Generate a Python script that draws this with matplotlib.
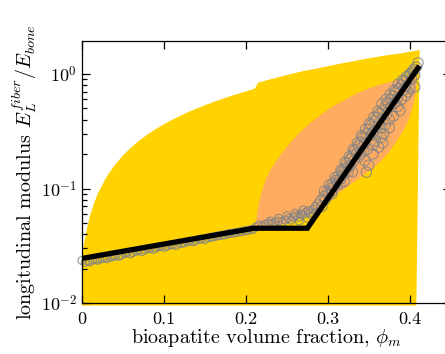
import numpy as np
import matplotlib
matplotlib.use("Agg")
import matplotlib.pyplot as plt

# --- data ---
# yellow band: upper bound (lower bound is the axis floor)
band_x = [0.0, 0.003, 0.006, 0.010, 0.015, 0.020, 0.030, 0.040, 0.050, 0.060, 0.070, 0.080,
          0.090, 0.100, 0.110, 0.120, 0.130, 0.140, 0.150, 0.160, 0.170, 0.180, 0.190, 0.200,
          0.211, 0.215, 0.230, 0.250, 0.270, 0.290, 0.310, 0.330, 0.350, 0.370, 0.390, 0.412]
band_hi = [0.024, 0.034, 0.044, 0.058, 0.075, 0.092, 0.126, 0.160, 0.194, 0.228, 0.262, 0.296,
           0.330, 0.364, 0.398, 0.432, 0.466, 0.500, 0.534, 0.568, 0.602, 0.636, 0.670, 0.704,
           0.745, 0.840, 0.900, 0.980, 1.06, 1.13, 1.21, 1.29, 1.37, 1.45, 1.52, 1.62]
band_lo = 0.0095
band_xend_bottom = 0.408

# orange lens (upper edge left->right, then lower edge right->left)
lens_up_x = [0.2125, 0.214, 0.216, 0.219, 0.222, 0.226, 0.230, 0.236, 0.243, 0.250, 0.258, 0.266,
             0.276, 0.288, 0.300, 0.312, 0.325, 0.338, 0.350, 0.362, 0.375, 0.388, 0.398, 0.404]
lens_up_y = [0.050, 0.062, 0.075, 0.092, 0.108, 0.127, 0.145, 0.170, 0.200, 0.230, 0.270, 0.310,
             0.360, 0.420, 0.490, 0.550, 0.620, 0.690, 0.750, 0.800, 0.850, 0.900, 0.950, 1.00]
lens_lo_x = [0.407, 0.408, 0.407, 0.405, 0.402, 0.398, 0.392, 0.384, 0.375, 0.366, 0.357, 0.347,
             0.335, 0.323, 0.311, 0.300, 0.290, 0.280, 0.265, 0.250, 0.230, 0.213]
lens_lo_y = [0.90, 0.80, 0.68, 0.56, 0.47, 0.39, 0.32, 0.26, 0.21, 0.177, 0.155, 0.137,
             0.118, 0.103, 0.089, 0.077, 0.067, 0.060, 0.054, 0.050, 0.047, 0.046]

# simulation points (grey circles)
low_x = [0.000, 0.004, 0.007, 0.010, 0.013, 0.016, 0.019, 0.022, 0.025, 0.028, 0.031, 0.035,
         0.038, 0.041, 0.045, 0.048, 0.052, 0.055, 0.059, 0.062, 0.066, 0.069, 0.073, 0.076,
         0.080, 0.083, 0.087, 0.090, 0.094, 0.097, 0.101, 0.104, 0.108, 0.111, 0.115, 0.118,
         0.122, 0.125, 0.129, 0.132, 0.136, 0.139, 0.143, 0.146, 0.150, 0.153, 0.157, 0.160,
         0.164, 0.167, 0.171, 0.174, 0.178, 0.181, 0.185, 0.188, 0.192, 0.195, 0.199, 0.202,
         0.206, 0.209]
low_y = [0.0235, 0.0226, 0.0232, 0.0229, 0.0237, 0.0240, 0.0236, 0.0241, 0.0246, 0.0247, 0.0244, 0.0251,
         0.0256, 0.0258, 0.0255, 0.0262, 0.0270, 0.0275, 0.0268, 0.0276, 0.0283, 0.0287, 0.0281, 0.0290,
         0.0297, 0.0300, 0.0294, 0.0301, 0.0309, 0.0312, 0.0306, 0.0316, 0.0321, 0.0323, 0.0318, 0.0333,
         0.0331, 0.0336, 0.0343, 0.0348, 0.0342, 0.0352, 0.0360, 0.0363, 0.0358, 0.0370, 0.0375, 0.0378,
         0.0383, 0.0387, 0.0391, 0.0394, 0.0402, 0.0405, 0.0408, 0.0412, 0.0418, 0.0420, 0.0428, 0.0430,
         0.0437, 0.0440]

mid_x = [0.212, 0.216, 0.220, 0.224, 0.228, 0.230, 0.232, 0.236, 0.240, 0.240, 0.244, 0.248,
         0.250, 0.252, 0.255, 0.258, 0.260, 0.261, 0.264, 0.265, 0.267, 0.270, 0.270, 0.273,
         0.275, 0.276, 0.279, 0.280, 0.282, 0.285, 0.285]
mid_y = [0.046, 0.048, 0.047, 0.049, 0.050, 0.052, 0.049, 0.051, 0.052, 0.055, 0.051, 0.053,
         0.058, 0.055, 0.053, 0.056, 0.061, 0.058, 0.056, 0.052, 0.060, 0.059, 0.065, 0.062,
         0.055, 0.064, 0.061, 0.058, 0.066, 0.070, 0.062]

up_x = [0.288, 0.291, 0.293, 0.295, 0.297, 0.299, 0.301, 0.303, 0.305, 0.306, 0.308, 0.310,
        0.312, 0.313, 0.315, 0.317, 0.318, 0.320, 0.320, 0.322, 0.323, 0.325, 0.327, 0.328,
        0.330, 0.330, 0.332, 0.333, 0.335, 0.337, 0.338, 0.340, 0.342, 0.343, 0.345, 0.345,
        0.347, 0.347, 0.348, 0.350, 0.350, 0.352, 0.353, 0.355, 0.355, 0.357, 0.358, 0.360,
        0.362, 0.362, 0.363, 0.365, 0.367, 0.367, 0.368, 0.370, 0.372, 0.373, 0.375, 0.377,
        0.378, 0.380, 0.382, 0.383, 0.385, 0.387, 0.388, 0.390, 0.392, 0.393, 0.395, 0.397,
        0.398, 0.400, 0.400, 0.402, 0.404, 0.406, 0.406, 0.408, 0.410,
        0.296, 0.302, 0.309, 0.316, 0.321, 0.326, 0.331, 0.336, 0.341, 0.346, 0.351, 0.356,
        0.361, 0.366, 0.371, 0.376, 0.381, 0.386, 0.391, 0.396, 0.401, 0.405, 0.360, 0.370,
        0.380, 0.390, 0.395, 0.385, 0.375, 0.365, 0.355, 0.340, 0.325, 0.315, 0.305]
up_y = [0.072, 0.078, 0.070, 0.085, 0.080, 0.092, 0.088, 0.100, 0.095, 0.110, 0.104, 0.118,
        0.112, 0.128, 0.121, 0.140, 0.130, 0.150, 0.115, 0.142, 0.165, 0.155, 0.180, 0.160,
        0.195, 0.140, 0.175, 0.215, 0.200, 0.235, 0.190, 0.255, 0.230, 0.280, 0.250, 0.175,
        0.300, 0.139, 0.220, 0.330, 0.160, 0.290, 0.360, 0.310, 0.200, 0.390, 0.260, 0.420,
        0.370, 0.230, 0.450, 0.340, 0.480, 0.250, 0.300, 0.520, 0.450, 0.560, 0.400, 0.600,
        0.520, 0.640, 0.560, 0.700, 0.620, 0.750, 0.480, 0.800, 0.720, 0.860, 0.780, 0.920,
        0.700, 0.980, 0.750, 0.900, 1.050, 0.980, 0.770, 1.150, 1.250,
        0.095, 0.108, 0.125, 0.145, 0.170, 0.190, 0.220, 0.250, 0.290, 0.330, 0.370, 0.420,
        0.470, 0.550, 0.600, 0.660, 0.720, 0.820, 0.880, 0.950, 1.020, 1.100, 0.300, 0.360,
        0.430, 0.600, 0.650, 0.520, 0.340, 0.280, 0.240, 0.200, 0.140, 0.110, 0.090]

# piecewise fit (black line)
fit_x = [0.0, 0.21, 0.275, 0.41]
fit_y = [0.0245, 0.045, 0.045, 1.13]

xticks = [0, 0.1, 0.2, 0.3, 0.4]
xticklabels = ["0", "0.1", "0.2", "0.3", "0.4"]
yticks = [1e-2, 1e-1, 1e0]
yticklabels = [r"$10^{-2}$", r"$10^{-1}$", r"$10^{0}$"]

plt.rcParams["font.family"] = "serif"
plt.rcParams["font.serif"] = ["cmr10", "DejaVu Serif"]
plt.rcParams["mathtext.fontset"] = "cm"
plt.rcParams["axes.formatter.use_mathtext"] = True

fig = plt.figure(figsize=(4.45, 3.54), dpi=100)
ax = fig.add_axes([0.184, 0.144, 0.829, 0.740])

yellow = "#ffd200"
orange = "#ffab60"

# yellow band
poly_x = [0.0] + band_x + [band_xend_bottom, 0.0]
poly_y = [band_lo] + band_hi + [band_lo, band_lo]
ax.fill(poly_x, poly_y, color=yellow, lw=0, zorder=1, clip_on=False)

# orange lens
ax.fill(lens_up_x + lens_lo_x, lens_up_y + lens_lo_y, color=orange, lw=0, zorder=2)

# circles
ax.scatter(low_x + mid_x, low_y + mid_y, s=32, facecolors="none", edgecolors="#858585",
           linewidths=0.8, alpha=0.85, zorder=3, clip_on=False)
ax.scatter(up_x, up_y, s=55, facecolors="none", edgecolors="#858585",
           linewidths=0.8, alpha=0.85, zorder=3, clip_on=False)

ax.plot(fit_x, fit_y, color="black", lw=3.8, zorder=4, solid_joinstyle="miter")

ax.set_yscale("log")
ax.set_xlim(0, 0.45)
ax.set_ylim(0.01, 1.94)
ax.set_xticks(xticks)
ax.set_xticklabels(xticklabels)
ax.set_yticks(yticks)
ax.set_yticklabels(yticklabels)
ax.tick_params(which="both", direction="in", top=True, right=True, labelsize=13, width=0.9)
ax.tick_params(which="major", length=6)
ax.tick_params(which="minor", length=3.5)
ax.tick_params(axis="x", pad=6)
for sp in ax.spines.values():
    sp.set_linewidth(0.9)
    sp.set_zorder(5)

ax.set_xlabel(r"bioapatite volume fraction, $\phi_m$", fontsize=14.5, labelpad=0)
ax.set_ylabel(r"longitudinal modulus $E_L^{fiber}/E_{bone}$", fontsize=14.5, labelpad=1)

fig.savefig("out.png", dpi=100)
